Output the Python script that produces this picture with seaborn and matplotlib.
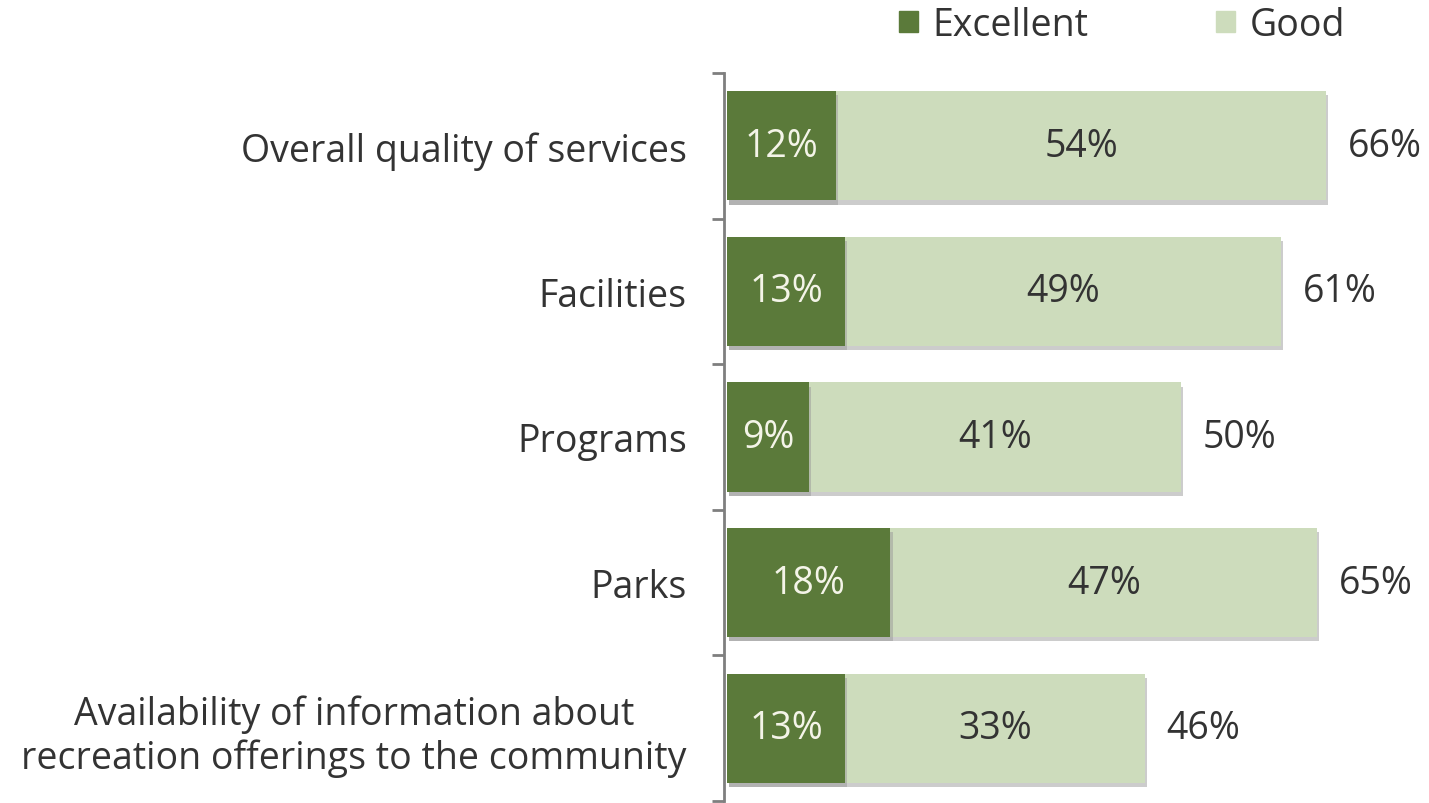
import matplotlib
matplotlib.use("Agg")
import matplotlib.pyplot as plt
import matplotlib.patheffects as pe
from matplotlib.ticker import FixedLocator
import seaborn as sns
import pandas as pd

categories = [
    "Overall quality of services",
    "Facilities",
    "Programs",
    "Parks",
    "Availability of information about\nrecreation offerings to the community",
]
excellent = [12, 13, 9, 18, 13]
good = [54, 49, 41, 47, 33]
total = [66, 61, 50, 65, 46]

dark = "#5b7a3a"
light = "#cddcbc"
text_col = "#333333"
FS = 27

sns.set_theme(style="white")
plt.rcParams["font.family"] = ["Open Sans", "DejaVu Sans"]

df = pd.DataFrame({"cat": categories, "Excellent": excellent, "Good": good, "Total": total})

fig = plt.figure(figsize=(14.29, 8.04), dpi=100)
ax = fig.add_axes([727 / 1429, 2 / 804, 702 / 1429, 728 / 804])

sns.barplot(data=df, x="Total", y="cat", orient="h", color=light, width=0.75,
            saturation=1, ax=ax, label="Good")
sns.barplot(data=df, x="Excellent", y="cat", orient="h", color=dark, width=0.75,
            saturation=1, ax=ax, label="Excellent")

shadow = [pe.SimplePatchShadow(offset=(1.5, -3), shadow_rgbFace="#9a9a9a", alpha=0.5), pe.Normal()]
for p in ax.patches:
    p.set_edgecolor("none")
    p.set_path_effects(shadow)

for i in range(len(categories)):
    ax.text(excellent[i] / 2, i, f"{excellent[i]}%", ha="center", va="center",
            color="#f4f4e8", fontsize=FS)
    ax.text((excellent[i] + total[i]) / 2, i, f"{good[i]}%", ha="center", va="center",
            color=text_col, fontsize=FS)
    ax.text(total[i] + 2.4, i, f"{total[i]}%", ha="left", va="center",
            color=text_col, fontsize=FS)

ax.set_xlim(0, 702 / 9.08)
ax.set_ylim(len(categories) - 0.5, -0.5)
ax.set_xlabel("")
ax.set_ylabel("")
ax.set_xticks([])

for s in ["top", "right", "bottom"]:
    ax.spines[s].set_visible(False)
ax.spines["left"].set_color("#7f7f7f")
ax.spines["left"].set_linewidth(2)
ax.spines["left"].set_position(("outward", 2))

ax.yaxis.set_minor_locator(FixedLocator([i - 0.5 for i in range(len(categories) + 1)]))
ax.tick_params(axis="y", which="major", length=0, pad=27, labelsize=FS, labelcolor=text_col)
ax.tick_params(axis="y", which="minor", length=9, width=2, color="#7f7f7f", left=True)
for lab in ax.get_yticklabels():
    lab.set_multialignment("center")
    lab.set_linespacing(1.2)

fig.legend([plt.Rectangle((0, 0), 1, 1, color=dark), plt.Rectangle((0, 0), 1, 1, color=light)],
           ["Excellent", "Good"], loc="center", bbox_to_anchor=(1122 / 1429, 1 - 26 / 804),
           ncol=2, frameon=False, fontsize=FS, handlelength=0.5, handleheight=0.5,
           handletextpad=0.4, columnspacing=3.4, labelcolor=text_col)
if ax.get_legend() is not None:
    ax.get_legend().remove()

fig.savefig("out.png", dpi=100)
